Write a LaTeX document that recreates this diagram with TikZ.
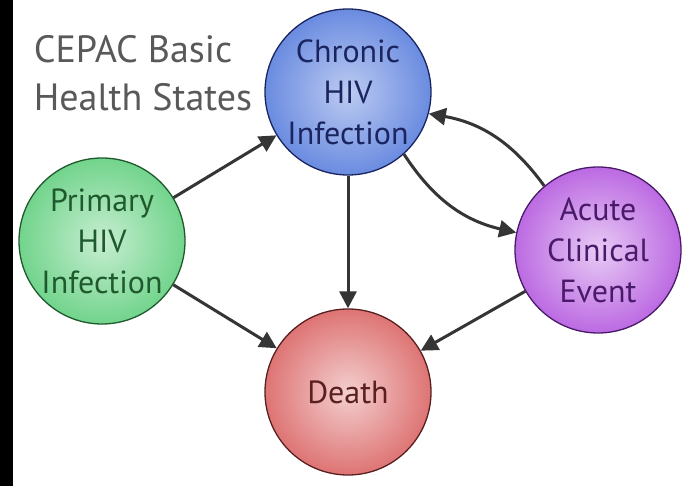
\documentclass[tikz,border=0pt]{standalone}
\usepackage{fontspec}
\setmainfont{PT Sans}
\usetikzlibrary{arrows.meta}
\definecolor{chronicfill}{HTML}{6A8BE0}
\definecolor{chronicline}{HTML}{1A2560}
\definecolor{primaryfill}{HTML}{72D48C}
\definecolor{primaryline}{HTML}{1F5A2E}
\definecolor{acutefill}{HTML}{BC6AE2}
\definecolor{acuteline}{HTML}{4A1A6A}
\definecolor{deathfill}{HTML}{DE7474}
\definecolor{deathline}{HTML}{5A1F1F}
\definecolor{linkgray}{HTML}{353535}

\begin{document}
\begin{tikzpicture}[x=1pt,y=-1pt,
  state/.style={circle,draw,line width=1.3pt,minimum size=166pt,inner sep=0pt,
    align=center,font=\fontsize{32}{41}\selectfont},
  link/.style={-{Triangle[length=17pt,width=17pt]},line width=3pt,draw=linkgray}]
\useasboundingbox (0,0) rectangle (688,486);
\fill[white] (0,0) rectangle (688,486);
\fill[black] (0,0) rectangle (13,486);
\node[align=left,text=black!65,font=\fontsize{38}{48}\selectfont] (title) at (143,73) {CEPAC Basic\\Health States};
\node[state,draw=chronicline,text=chronicline,inner color=chronicfill!45!white,outer color=chronicfill] (chronic) at (348,92){Chronic\\HIV\\Infection};
\node[state,draw=primaryline,text=primaryline,inner color=primaryfill!40!white,outer color=primaryfill] (primary) at (102,241){Primary\\HIV\\Infection};
\node[state,draw=acuteline,text=acuteline,inner color=acutefill!35!white,outer color=acutefill] (acute) at (598,250){Acute\\Clinical\\Event};
\node[state,draw=deathline,text=deathline,inner color=deathfill!35!white,outer color=deathfill] (death) at (348,392){Death};
\foreach \from/\to in {primary/chronic,primary/death,chronic/death,acute/death}
  \draw[link] (\from) -- (\to);
\draw[link] (chronic.-48) to[bend right=22] (acute.168);
\draw[link] (acute.130) to[bend right=22] (chronic.-15);
\end{tikzpicture}
\end{document}
